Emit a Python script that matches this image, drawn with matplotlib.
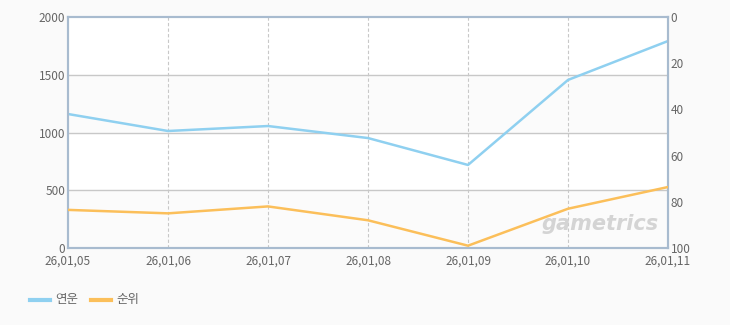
import matplotlib.pyplot as plt
import numpy as np

plt.rcParams['font.family'] = ['Noto Sans CJK KR', 'DejaVu Sans']

dates = ["26,01,05", "26,01,06", "26,01,07", "26,01,08", "26,01,09", "26,01,10", "26,01,11"]
yeonun = [1160, 1013, 1056, 952, 719, 1455, 1792]
rank = [83.5, 85, 82, 88, 99, 83, 73.6]

blue = "#8fd0f0"
orange = "#fbbf5a"
spine_c = "#a8bbcf"
text_c = "#666666"

fig = plt.figure(figsize=(7.3, 3.25), dpi=100)
fig.patch.set_facecolor("#fafafa")
ax = fig.add_axes([68/730, 1-248/325, 600/730, 231/325])
ax.set_facecolor("white")

x = np.arange(len(dates))
# alternating bands
for lo, hi in [(0, 500), (1000, 1500)]:
    ax.axhspan(lo, hi, color="#fbfbfb", zorder=0)
for yv in [500, 1000, 1500]:
    ax.axhline(yv, color="#c8c8c8", lw=1, zorder=1)
for xv in x[1:-1]:
    ax.axvline(xv, color="#c8c8c8", lw=0.8, ls=(0, (3, 2)), zorder=1)

ax.plot(x, yeonun, color=blue, lw=1.8, zorder=3)
ax.set_xlim(0, len(dates) - 1)
ax.set_ylim(0, 2000)
ax.set_yticks([0, 500, 1000, 1500, 2000])
ax.set_xticks(x)
ax.set_xticklabels(dates)

ax2 = ax.twinx()
ax2.plot(x, rank, color=orange, lw=1.8, zorder=3)
ax2.set_ylim(100, 0)
ax2.set_yticks([0, 20, 40, 60, 80, 100])

for a in (ax, ax2):
    for s in a.spines.values():
        s.set_color(spine_c)
        s.set_linewidth(1.5)
    a.tick_params(length=0, labelsize=8.5, colors=text_c, pad=2)
ax.tick_params(axis="x", pad=5)

ax.text(0.985, 0.06, "gametrics", transform=ax.transAxes, ha="right", va="bottom",
        fontsize=15, fontweight="bold", style="italic", color="#d4d4d4",
        family="DejaVu Sans", zorder=2)

# legend
fig.lines.append(plt.Line2D([30/730, 50/730], [1-300/325]*2, color=blue, lw=3, transform=fig.transFigure))
fig.text(55/730, 1-300/325, "연운", fontsize=9, color=text_c, va="center")
fig.lines.append(plt.Line2D([91/730, 111/730], [1-300/325]*2, color=orange, lw=3, transform=fig.transFigure))
fig.text(116/730, 1-300/325, "순위", fontsize=9, color=text_c, va="center")

fig.savefig("out.png", dpi=100, facecolor=fig.get_facecolor())
